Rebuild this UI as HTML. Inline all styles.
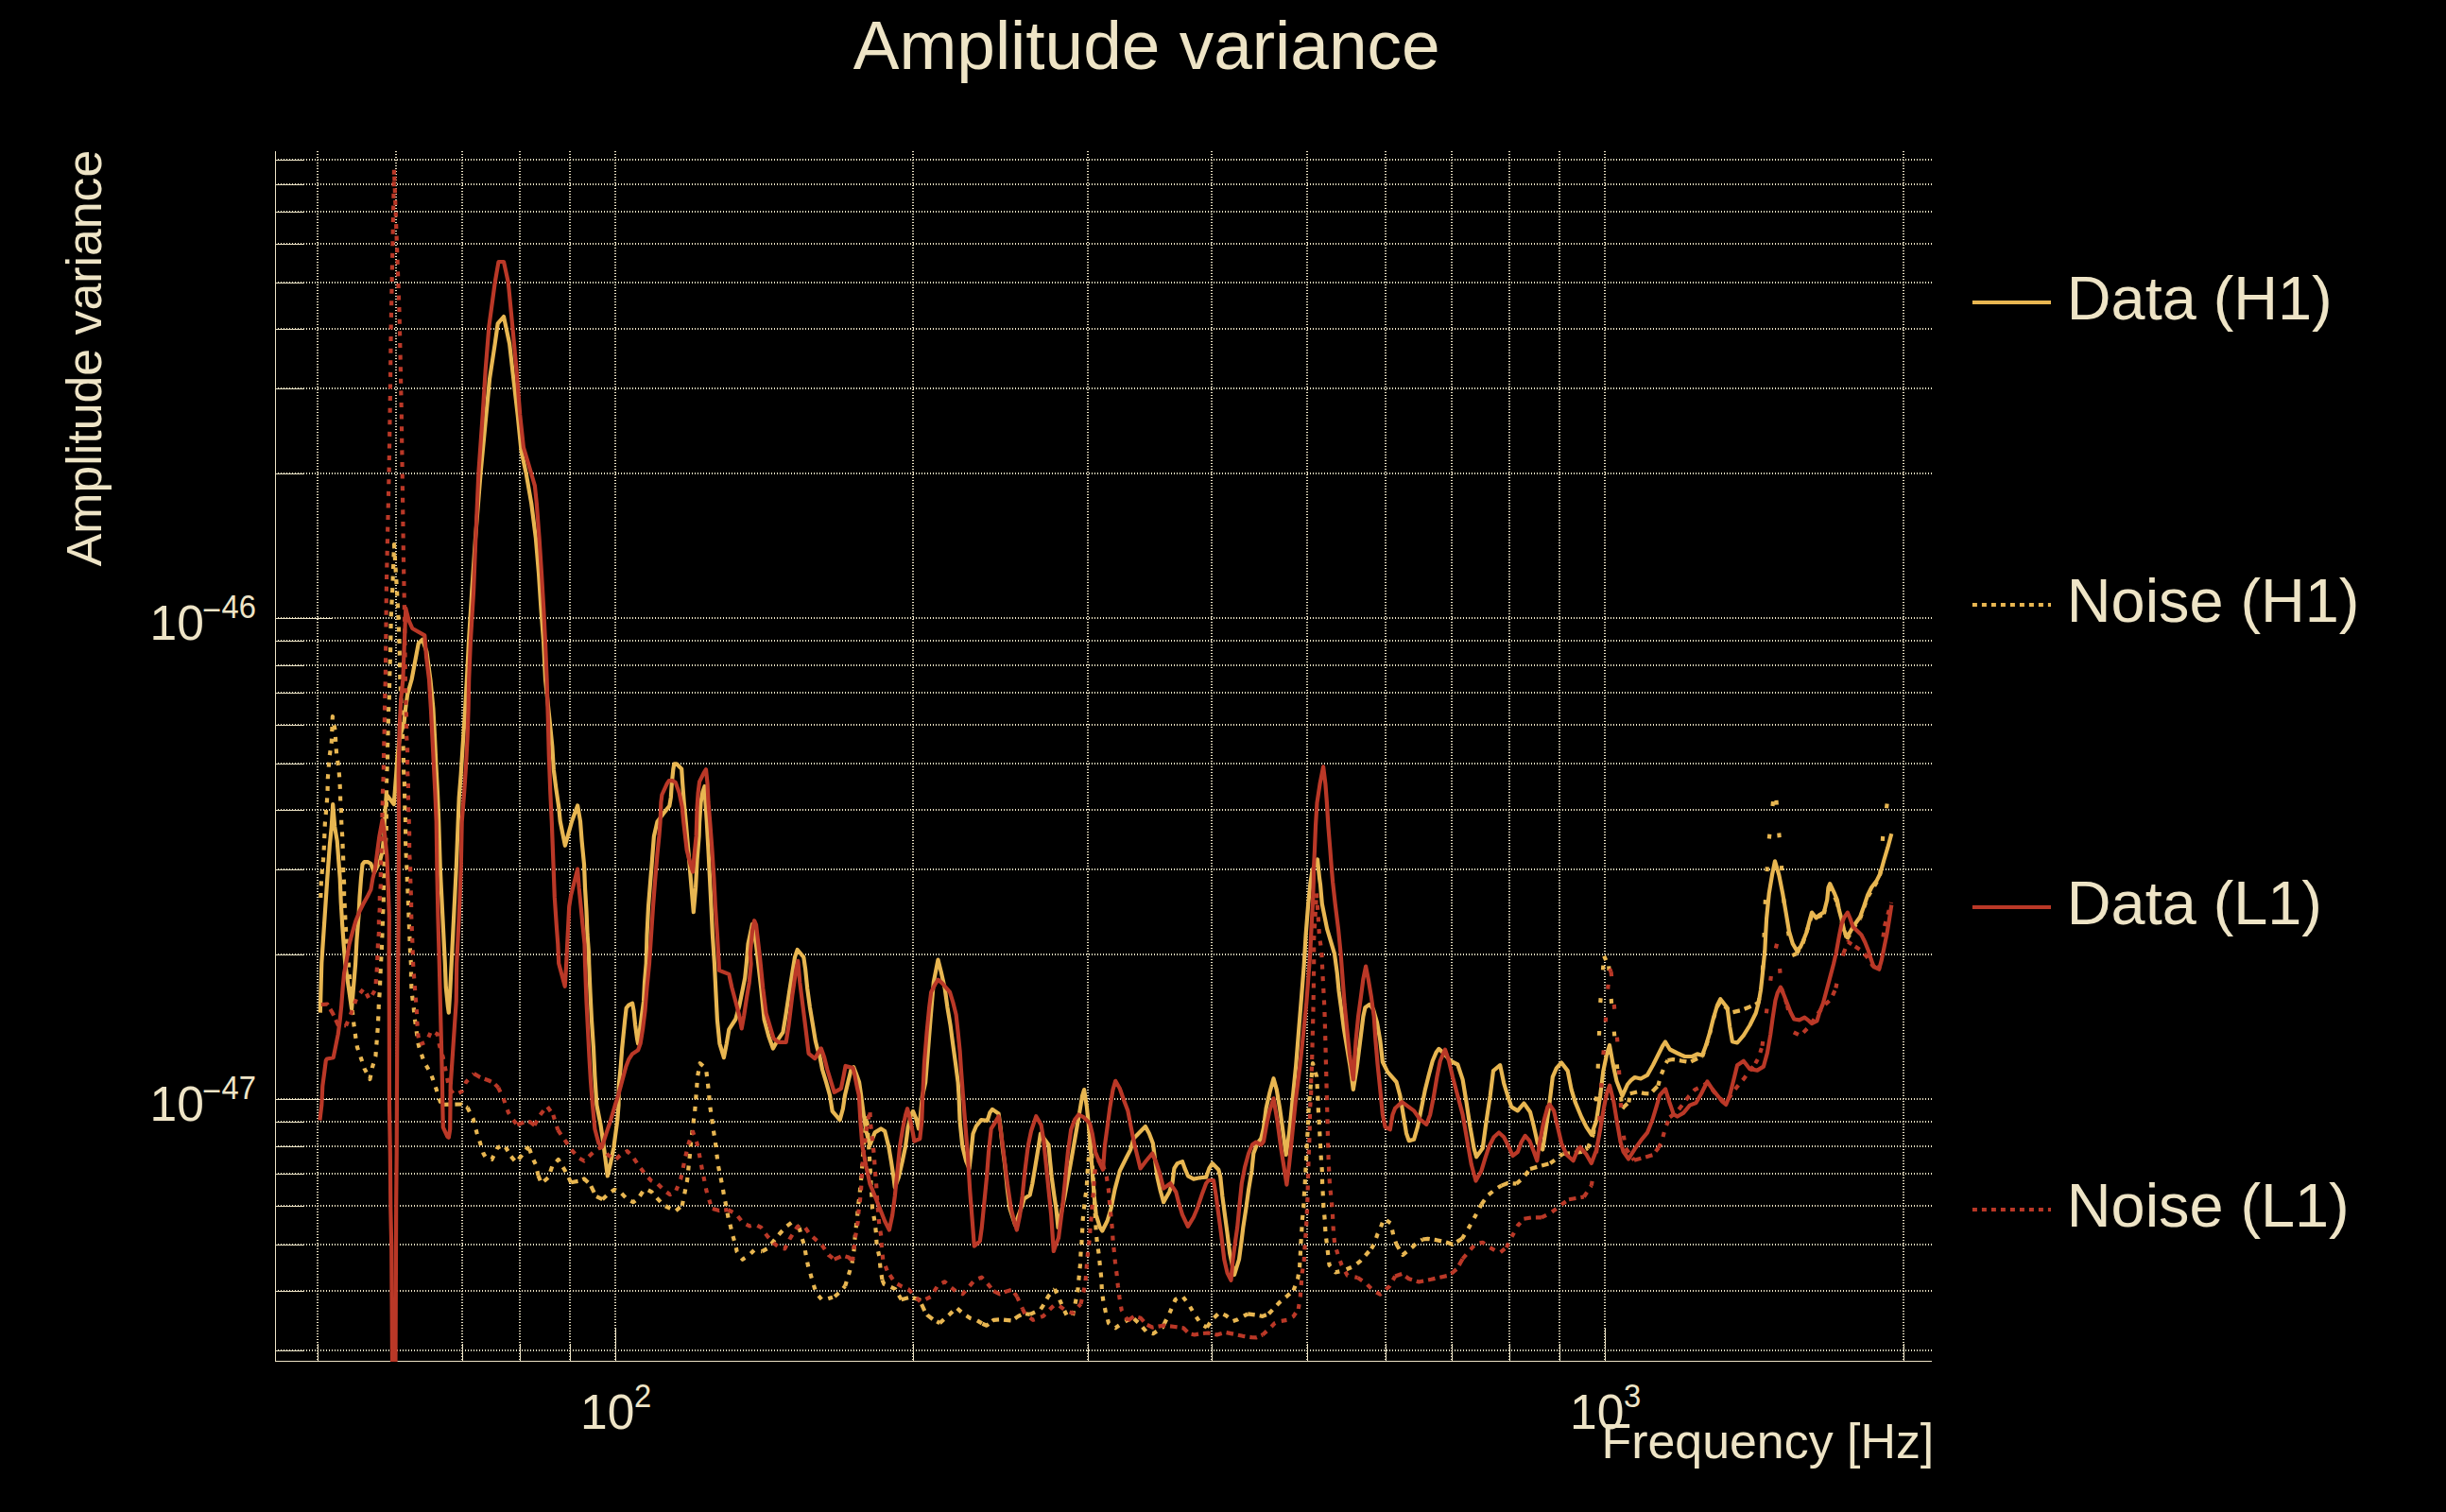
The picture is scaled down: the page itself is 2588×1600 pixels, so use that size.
<!DOCTYPE html>
<html><head><meta charset="utf-8"><title>Amplitude variance</title>
<style>html,body{margin:0;padding:0;background:#000;}svg{display:block;}text{font-family:"Liberation Sans",sans-serif;fill:#EEE4C6;}</style>
</head><body>
<svg xmlns="http://www.w3.org/2000/svg" width="2588" height="1600" viewBox="0 0 2588 1600">
<rect x="0" y="0" width="2588" height="1600" fill="#000"/>
<g stroke="#EEE4C6" stroke-width="2" stroke-dasharray="1 2" fill="none" shape-rendering="crispEdges">
<line x1="336" y1="160" x2="336" y2="1441"/>
<line x1="419" y1="160" x2="419" y2="1441"/>
<line x1="489" y1="160" x2="489" y2="1441"/>
<line x1="550" y1="160" x2="550" y2="1441"/>
<line x1="603" y1="160" x2="603" y2="1441"/>
<line x1="651" y1="160" x2="651" y2="1441"/>
<line x1="966" y1="160" x2="966" y2="1441"/>
<line x1="1151" y1="160" x2="1151" y2="1441"/>
<line x1="1282" y1="160" x2="1282" y2="1441"/>
<line x1="1383" y1="160" x2="1383" y2="1441"/>
<line x1="1466" y1="160" x2="1466" y2="1441"/>
<line x1="1536" y1="160" x2="1536" y2="1441"/>
<line x1="1597" y1="160" x2="1597" y2="1441"/>
<line x1="1650" y1="160" x2="1650" y2="1441"/>
<line x1="1698" y1="160" x2="1698" y2="1441"/>
<line x1="2014" y1="160" x2="2014" y2="1441"/>
<line x1="291" y1="1429" x2="2044" y2="1429"/>
<line x1="291" y1="1366" x2="2044" y2="1366"/>
<line x1="291" y1="1317" x2="2044" y2="1317"/>
<line x1="291" y1="1276" x2="2044" y2="1276"/>
<line x1="291" y1="1242" x2="2044" y2="1242"/>
<line x1="291" y1="1213" x2="2044" y2="1213"/>
<line x1="291" y1="1187" x2="2044" y2="1187"/>
<line x1="291" y1="1163" x2="2044" y2="1163"/>
<line x1="291" y1="1010" x2="2044" y2="1010"/>
<line x1="291" y1="920" x2="2044" y2="920"/>
<line x1="291" y1="857" x2="2044" y2="857"/>
<line x1="291" y1="808" x2="2044" y2="808"/>
<line x1="291" y1="767" x2="2044" y2="767"/>
<line x1="291" y1="733" x2="2044" y2="733"/>
<line x1="291" y1="704" x2="2044" y2="704"/>
<line x1="291" y1="678" x2="2044" y2="678"/>
<line x1="291" y1="654" x2="2044" y2="654"/>
<line x1="291" y1="501" x2="2044" y2="501"/>
<line x1="291" y1="411" x2="2044" y2="411"/>
<line x1="291" y1="348" x2="2044" y2="348"/>
<line x1="291" y1="299" x2="2044" y2="299"/>
<line x1="291" y1="258" x2="2044" y2="258"/>
<line x1="291" y1="224" x2="2044" y2="224"/>
<line x1="291" y1="195" x2="2044" y2="195"/>
<line x1="291" y1="169" x2="2044" y2="169"/>
</g>
<g stroke="#EEE4C6" stroke-width="1" fill="none" shape-rendering="crispEdges">
<line x1="291.5" y1="160" x2="291.5" y2="1441"/>
<line x1="291" y1="1440.5" x2="2044" y2="1440.5"/>
<line x1="336.5" y1="1441" x2="336.5" y2="1422"/>
<line x1="419.5" y1="1441" x2="419.5" y2="1422"/>
<line x1="489.5" y1="1441" x2="489.5" y2="1422"/>
<line x1="550.5" y1="1441" x2="550.5" y2="1422"/>
<line x1="603.5" y1="1441" x2="603.5" y2="1422"/>
<line x1="651.5" y1="1441" x2="651.5" y2="1405"/>
<line x1="966.5" y1="1441" x2="966.5" y2="1422"/>
<line x1="1151.5" y1="1441" x2="1151.5" y2="1422"/>
<line x1="1282.5" y1="1441" x2="1282.5" y2="1422"/>
<line x1="1383.5" y1="1441" x2="1383.5" y2="1422"/>
<line x1="1466.5" y1="1441" x2="1466.5" y2="1422"/>
<line x1="1536.5" y1="1441" x2="1536.5" y2="1422"/>
<line x1="1597.5" y1="1441" x2="1597.5" y2="1422"/>
<line x1="1650.5" y1="1441" x2="1650.5" y2="1422"/>
<line x1="1698.5" y1="1441" x2="1698.5" y2="1405"/>
<line x1="2014.5" y1="1441" x2="2014.5" y2="1422"/>
<line x1="291" y1="1429.5" x2="322" y2="1429.5"/>
<line x1="291" y1="1366.5" x2="322" y2="1366.5"/>
<line x1="291" y1="1317.5" x2="322" y2="1317.5"/>
<line x1="291" y1="1276.5" x2="322" y2="1276.5"/>
<line x1="291" y1="1242.5" x2="322" y2="1242.5"/>
<line x1="291" y1="1213.5" x2="322" y2="1213.5"/>
<line x1="291" y1="1187.5" x2="322" y2="1187.5"/>
<line x1="291" y1="1163.5" x2="352" y2="1163.5"/>
<line x1="291" y1="1010.5" x2="322" y2="1010.5"/>
<line x1="291" y1="920.5" x2="322" y2="920.5"/>
<line x1="291" y1="857.5" x2="322" y2="857.5"/>
<line x1="291" y1="808.5" x2="322" y2="808.5"/>
<line x1="291" y1="767.5" x2="322" y2="767.5"/>
<line x1="291" y1="733.5" x2="322" y2="733.5"/>
<line x1="291" y1="704.5" x2="322" y2="704.5"/>
<line x1="291" y1="678.5" x2="322" y2="678.5"/>
<line x1="291" y1="654.5" x2="352" y2="654.5"/>
<line x1="291" y1="501.5" x2="322" y2="501.5"/>
<line x1="291" y1="411.5" x2="322" y2="411.5"/>
<line x1="291" y1="348.5" x2="322" y2="348.5"/>
<line x1="291" y1="299.5" x2="322" y2="299.5"/>
<line x1="291" y1="258.5" x2="322" y2="258.5"/>
<line x1="291" y1="224.5" x2="322" y2="224.5"/>
<line x1="291" y1="195.5" x2="322" y2="195.5"/>
<line x1="291" y1="169.5" x2="322" y2="169.5"/>
</g>
<defs><clipPath id="cp"><rect x="291.5" y="157.8" width="1752.5" height="1283.2"/></clipPath></defs>
<g clip-path="url(#cp)" fill="none" stroke-width="4.2" stroke-linejoin="round" stroke-linecap="butt">
<path d="M338.8,1071.6 L340.3,1018.8 L342.3,989.0 L344.3,959.3 L346.3,929.5 L348.8,894.8 L350.8,875.0 L352.2,851.0 L354.2,875.0 L356.7,889.8 L358.2,909.7 L359.7,929.5 L360.7,954.3 L362.2,979.1 L363.7,1000.0 L365.3,1020.0 L372.1,1067.6 L376.1,1020.0 L377.5,994.0 L379.5,969.2 L380.5,949.4 L382.0,929.5 L383.5,914.6 L385.5,912.2 L389.4,912.2 L392.4,914.1 L394.4,919.6 L395.9,923.6 L399.4,916.6 L402.3,909.7 L404.3,901.7 L406.3,884.9 L406.8,869.0 L408.8,840.5 L416.7,851.0 L417.7,839.0 L419.2,819.2 L420.5,800.0 L423.0,780.0 L427.6,764.6 L429.1,749.8 L431.1,734.9 L435.6,719.0 L442.8,680.7 L447.0,676.7 L451.5,690.0 L455.5,720.0 L458.4,749.8 L460.0,779.5 L461.4,809.3 L463.0,839.0 L464.2,869.0 L465.8,919.6 L468.3,969.2 L470.8,1018.8 L471.8,1044.8 L473.8,1064.6 L474.8,1071.6 L476.2,1049.8 L477.7,1019.5 L480.2,969.2 L482.7,919.6 L484.7,869.0 L485.7,844.0 L487.7,819.2 L489.6,789.4 L491.6,759.7 L493.9,719.0 L495.9,680.7 L499.3,625.2 L503.0,569.6 L508.5,501.1 L514.4,439.0 L518.1,400.7 L523.7,363.7 L526.7,342.4 L533.0,335.0 L539.1,363.7 L543.3,400.7 L547.7,439.0 L551.5,477.0 L556.7,501.1 L562.2,532.6 L566.9,569.6 L570.0,606.7 L572.4,643.7 L575.2,680.7 L577.0,719.0 L581.3,759.7 L584.3,789.4 L585.8,814.2 L588.3,834.1 L591.2,853.9 L592.7,869.0 L597.9,894.8 L605.1,869.0 L611.1,852.4 L614.0,869.0 L615.6,889.8 L618.0,914.6 L619.0,939.4 L620.5,964.2 L621.5,989.0 L623.0,1008.9 L623.2,1019.5 L624.5,1049.8 L626.0,1079.5 L628.0,1109.3 L629.4,1139.0 L631.4,1169.4 L635.4,1189.8 L638.4,1209.7 L640.9,1229.5 L642.8,1244.4 L646.3,1229.5 L649.3,1214.6 L651.3,1199.8 L653.3,1184.9 L654.5,1169.4 L654.7,1149.0 L656.7,1129.1 L658.2,1109.3 L659.7,1094.4 L661.2,1079.5 L662.7,1066.6 L665.2,1063.7 L669.1,1061.7 L670.6,1069.6 L672.1,1084.5 L674.1,1099.4 L675.1,1104.3 L677.1,1089.4 L679.0,1074.6 L681.0,1059.7 L682.0,1039.8 L683.7,1019.5 L684.5,989.0 L686.0,959.3 L688.0,934.5 L690.0,909.7 L691.9,884.9 L695.5,869.5 L701.9,860.9 L708.3,852.9 L709.8,844.0 L710.8,829.1 L712.3,814.2 L713.3,808.3 L715.8,808.3 L721.2,813.8 L722.2,829.1 L723.7,849.0 L725.7,869.5 L728.7,904.7 L731.6,939.4 L733.8,965.2 L736.1,939.4 L737.6,909.7 L739.6,884.9 L740.1,870.0 L741.5,849.0 L743.5,838.0 L745.5,832.1 L746.5,849.0 L747.8,869.5 L749.5,899.8 L751.0,929.5 L752.5,959.3 L753.9,989.0 L755.9,1019.5 L757.4,1049.8 L758.9,1079.5 L761.4,1104.3 L765.9,1119.2 L768.8,1104.3 L771.3,1089.4 L778.3,1078.5 L782.2,1064.6 L785.2,1049.8 L788.2,1034.9 L789.8,1019.5 L791.5,999.0 L796.0,978.0 L800.0,999.7 L805.3,1046.0 L808.6,1079.0 L813.2,1096.2 L817.9,1109.5 L823.1,1100.2 L828.4,1092.3 L831.7,1072.4 L835.1,1049.9 L838.4,1028.8 L841.0,1012.9 L843.7,1005.0 L850.3,1012.9 L852.2,1026.1 L854.2,1046.0 L856.9,1065.8 L860.2,1085.7 L862.8,1101.5 L864.8,1109.5 L867.5,1118.7 L870.1,1132.0 L874.1,1145.2 L878.0,1159.0 L880.7,1175.9 L888.6,1185.1 L891.9,1173.2 L894.0,1159.0 L897.9,1142.5 L900.5,1132.0 L903.2,1129.3 L905.8,1135.9 L909.1,1145.2 L911.1,1159.0 L913.8,1179.8 L916.4,1197.0 L920.4,1211.6 L925.7,1198.4 L932.3,1194.4 L936.2,1197.0 L940.2,1212.9 L942.9,1228.8 L945.5,1246.0 L946.8,1256.6 L950.8,1246.0 L954.8,1228.8 L958.1,1212.9 L960.7,1193.1 L964.0,1179.8 L966.0,1175.9 L969.3,1183.8 L972.0,1194.4 L973.3,1186.5 L975.9,1160.0 L979.2,1145.2 L981.9,1112.1 L984.5,1079.0 L987.8,1039.4 L992.5,1015.6 L995.8,1028.8 L999.7,1046.0 L1002.4,1065.8 L1005.7,1085.7 L1008.3,1105.5 L1011.0,1125.3 L1013.6,1145.2 L1014.5,1159.0 L1015.6,1186.5 L1018.3,1212.9 L1022.2,1228.8 L1025.5,1236.7 L1027.5,1219.5 L1029.5,1199.7 L1032.8,1191.7 L1038.1,1185.1 L1044.7,1185.8 L1047.4,1177.2 L1050.0,1173.9 L1056.6,1178.5 L1058.6,1193.1 L1060.6,1212.9 L1063.2,1232.8 L1065.9,1259.2 L1068.5,1279.0 L1074.0,1296.0 L1081.7,1275.1 L1083.7,1268.5 L1089.7,1264.5 L1092.3,1252.6 L1095.6,1232.8 L1098.9,1212.9 L1100.9,1199.7 L1109.5,1211.6 L1110.8,1226.1 L1112.8,1246.0 L1115.5,1265.8 L1117.5,1279.0 L1119.5,1299.0 L1126.6,1265.5 L1132.6,1232.4 L1137.2,1206.0 L1141.8,1179.5 L1145.1,1159.7 L1147.1,1153.1 L1149.8,1170.3 L1151.7,1188.8 L1153.7,1212.6 L1155.7,1239.0 L1157.7,1265.5 L1159.7,1285.3 L1163.7,1298.6 L1166.3,1302.5 L1171.6,1292.0 L1175.6,1278.7 L1179.5,1258.9 L1184.8,1239.0 L1191.4,1225.8 L1196.1,1216.6 L1199.4,1204.7 L1206.0,1198.0 L1211.9,1192.1 L1215.9,1199.4 L1219.9,1209.9 L1221.9,1225.8 L1224.5,1245.7 L1227.8,1260.2 L1231.1,1272.1 L1237.1,1261.5 L1240.4,1252.3 L1242.4,1236.4 L1245.7,1231.1 L1251.0,1229.1 L1253.6,1236.4 L1256.9,1244.3 L1262.9,1247.6 L1269.5,1246.3 L1276.1,1245.7 L1279.4,1236.4 L1282.7,1231.1 L1289.3,1237.7 L1291.3,1245.7 L1293.3,1265.5 L1295.9,1285.3 L1298.3,1303.0 L1301.2,1326.2 L1306.0,1349.0 L1311.0,1332.7 L1313.6,1313.1 L1315.3,1299.0 L1318.4,1278.7 L1321.1,1258.9 L1324.4,1239.0 L1326.3,1220.5 L1330.3,1209.9 L1334.3,1204.7 L1336.9,1194.1 L1339.6,1172.9 L1343.5,1155.7 L1347.5,1141.2 L1350.8,1153.1 L1354.1,1172.9 L1357.4,1196.7 L1360.7,1221.9 L1364.0,1199.4 L1366.7,1172.9 L1369.3,1146.5 L1371.2,1127.5 L1374.3,1088.7 L1377.0,1055.7 L1379.6,1022.6 L1381.6,989.5 L1384.2,956.5 L1386.5,934.0 L1388.5,921.0 L1394.0,909.5 L1396.0,928.9 L1397.0,936.0 L1398.8,956.5 L1404.1,982.9 L1412.0,1009.4 L1414.7,1029.2 L1416.6,1049.0 L1419.3,1068.9 L1421.9,1088.7 L1425.2,1108.6 L1428.5,1128.4 L1431.8,1152.9 L1435.8,1128.4 L1439.1,1102.0 L1442.4,1075.5 L1444.4,1066.2 L1449.0,1062.9 L1453.0,1068.0 L1457.0,1082.1 L1460.3,1101.0 L1462.9,1123.8 L1468.2,1134.4 L1477.5,1145.0 L1481.4,1159.5 L1484.7,1179.4 L1488.0,1199.2 L1490.7,1207.1 L1496.0,1205.8 L1499.9,1192.6 L1503.9,1172.8 L1507.9,1152.9 L1511.9,1137.0 L1515.8,1122.5 L1519.8,1113.2 L1522.4,1109.9 L1527.7,1114.6 L1534.3,1122.5 L1542.3,1126.5 L1547.6,1142.3 L1551.5,1166.1 L1555.5,1192.6 L1559.5,1215.1 L1562.1,1224.3 L1568.7,1215.1 L1572.7,1186.0 L1576.7,1159.5 L1580.0,1133.1 L1587.2,1127.1 L1591.2,1146.3 L1595.2,1159.5 L1599.2,1171.4 L1605.8,1175.4 L1612.4,1167.5 L1619.0,1176.7 L1623.0,1192.6 L1626.9,1209.8 L1632.2,1216.4 L1634.9,1199.2 L1638.8,1172.8 L1642.8,1139.7 L1646.8,1130.4 L1652.1,1124.5 L1658.7,1133.1 L1662.6,1152.9 L1666.6,1166.1 L1673.2,1182.0 L1678.5,1192.6 L1683.8,1200.5 L1689.1,1186.0 L1693.1,1159.5 L1696.4,1133.1 L1699.7,1117.2 L1703.0,1106.0 L1706.5,1125.5 L1710.5,1144.0 L1716.5,1159.7 L1722.0,1147.5 L1725.7,1143.2 L1729.7,1140.0 L1736.0,1141.5 L1743.0,1137.6 L1749.0,1127.0 L1755.0,1115.0 L1759.0,1107.0 L1762.0,1102.5 L1766.8,1110.5 L1774.8,1114.5 L1782.6,1118.0 L1790.5,1118.0 L1795.8,1115.4 L1801.1,1116.7 L1805.1,1106.1 L1809.0,1092.9 L1813.0,1077.0 L1817.0,1063.8 L1820.3,1057.2 L1827.6,1066.5 L1830.2,1086.3 L1832.9,1102.2 L1838.1,1103.5 L1844.8,1095.6 L1851.4,1085.0 L1857.8,1072.0 L1860.8,1060.5 L1863.0,1047.5 L1864.5,1034.1 L1865.9,1020.2 L1867.3,1006.3 L1868.0,992.2 L1869.1,972.0 L1871.7,945.7 L1875.0,925.8 L1878.0,911.3 L1882.3,925.8 L1886.2,945.7 L1889.6,965.5 L1892.9,985.3 L1896.8,998.6 L1901.2,1006.0 L1905.0,1002.0 L1907.5,996.5 L1911.5,986.5 L1914.4,975.0 L1917.0,965.6 L1921.7,971.4 L1924.6,968.5 L1929.9,965.2 L1933.2,952.3 L1934.5,939.0 L1936.2,935.1 L1940.5,944.3 L1943.8,952.3 L1945.8,962.9 L1948.4,972.5 L1951.1,984.2 L1954.2,991.5 L1957.4,986.5 L1960.5,981.0 L1964.0,976.0 L1968.1,970.2 L1972.2,958.9 L1976.2,947.0 L1980.2,939.0 L1985.4,932.4 L1989.4,924.5 L1993.4,910.0 L1997.4,896.7 L2001.3,882.2" stroke="#E8B651"/>
<path d="M339.3,950.0 L339.8,934.5 L340.8,921.6 L342.0,909.7 L342.8,896.8 L343.3,884.9 L343.8,872.0 L344.8,860.9 L346.0,847.0 L346.6,836.0 L346.8,824.2 L347.8,811.3 L348.8,799.4 L350.8,785.5 L351.9,758.2 L354.7,773.6 L355.2,785.5 L356.2,799.4 L358.2,811.3 L359.2,823.2 L359.9,835.6 L360.2,848.0 L361.2,860.9 L361.2,870.0 L362.2,884.9 L362.7,897.8 L363.2,909.7 L363.2,922.6 L364.1,934.5 L364.1,947.4 L364.8,959.3 L365.6,978.1 L366.4,990.0 L367.1,1002.0 L368.1,1008.9 L369.6,1029.9 L370.6,1044.8 L373.6,1077.5 L375.1,1089.4 L377.0,1102.3 L378.0,1108.3 L382.5,1121.2 L385.5,1130.6 L391.4,1142.0 L393.9,1129.6 L397.4,1117.7 L397.9,1111.3 L398.9,1098.4 L399.9,1085.5 L400.4,1073.6 L400.9,1060.7 L401.8,1048.8 L402.3,1035.9 L402.8,1024.0 L403.8,1005.9 L404.3,993.0 L404.8,980.1 L405.1,967.7 L405.8,955.3 L405.8,942.4 L406.3,929.5 L406.3,917.6 L408.8,879.9 L409.0,830.1 L409.3,817.7 L410.1,805.3 L410.1,789.4 L410.5,776.5 L410.8,764.6 L411.1,751.7 L411.8,739.8 L412.1,722.0 L413.3,680.7 L413.7,653.0 L415.2,625.2 L417.0,576.1 L420.0,625.2 L421.5,653.0 L422.6,680.7 L423.3,717.8 L426.6,789.4 L426.9,803.3 L427.1,815.2 L427.9,828.1 L428.1,840.0 L428.3,852.9 L428.9,864.8 L429.1,877.4 L429.1,890.8 L429.6,902.7 L429.9,909.7 L430.6,921.6 L430.9,933.5 L431.6,946.4 L432.1,959.3 L432.6,972.2 L433.1,984.1 L433.6,997.0 L434.1,1008.9 L435.1,1023.0 L434.9,1034.9 L435.6,1049.8 L437.6,1064.6 L438.6,1076.5 L440.5,1089.4 L442.0,1102.3 L443.5,1108.3 L448.5,1123.2 L455.9,1136.1 L461.4,1151.9 L465.8,1165.8 L468.8,1168.8" stroke="#E8B651" stroke-dasharray="5 7.6"/>
<path d="M468.8,1168.8 L488.7,1168.5 L494.6,1172.0" stroke="#E8B651" stroke-dasharray="7.6 5.0"/>
<path d="M494.6,1172.0 L500.6,1183.9 L504.5,1198.8 L507.5,1207.7 L511.5,1220.6 L514.4,1225.6 L520.4,1227.0 L526.3,1214.6 L533.3,1211.2 L540.7,1223.6" stroke="#E8B651" stroke-dasharray="5 7.6"/>
<path d="M540.7,1223.6 L546.0,1230.0 L552.1,1222.6 L558.1,1214.6 L560.0,1215.6" stroke="#E8B651" stroke-dasharray="5.8 6.8"/>
<path d="M560.0,1215.6 L564.5,1227.5 L566.9,1232.5 L569.4,1243.9" stroke="#E8B651" stroke-dasharray="5 7.6"/>
<path d="M569.4,1243.9 L572.9,1252.3 L580.3,1245.9 L584.3,1234.0 L590.8,1227.0 L597.7,1238.5 L602.7,1248.4 L604.1,1251.3" stroke="#E8B651" stroke-dasharray="5.8 6.8"/>
<path d="M604.1,1251.3 L611.6,1249.9 L618.0,1247.4 L624.5,1253.3 L630.4,1265.7 L637.4,1269.2" stroke="#E8B651" stroke-dasharray="7.6 5.0"/>
<path d="M637.4,1269.2 L643.8,1263.3 L650.3,1258.8 L657.2,1262.3 L663.7,1269.2 L670.1,1272.2 L675.5,1268.0 L680.5,1260.3 L684.0,1258.3 L689.5,1261.3 L695.9,1268.7 L701.9,1275.2 L708.8,1278.6 L714.8,1281.6 L721.7,1275.7" stroke="#E8B651" stroke-dasharray="5.8 6.8"/>
<path d="M721.7,1275.7 L724.2,1263.8 L727.2,1248.4 L728.7,1233.5 L730.1,1220.6 L731.1,1208.7 L732.6,1195.8 L734.1,1183.9 L735.1,1176.9 L736.1,1164.8 L737.1,1151.9 L738.1,1139.0 L740.6,1125.2 L747.0,1130.6 L748.5,1143.0 L750.0,1155.9 L751.0,1169.0 L753.0,1182.4 L754.9,1196.3 L756.9,1208.7 L758.4,1221.6 L759.9,1233.5 L762.4,1245.4 L764.9,1258.3 L765.9,1264.2 L768.3,1276.2 L770.8,1290.0 L772.3,1295.0 L775.3,1307.4 L778.3,1317.8 L779.7,1324.7 L785.7,1332.7 L792.6,1328.2 L798.1,1322.7 L800.0,1323.5 L806.5,1324.2" stroke="#E8B651" stroke-dasharray="5 7.6"/>
<path d="M806.5,1324.2 L812.4,1320.9 L824.7,1305.7 L831.7,1298.2 L837.7,1293.6 L845.6,1298.9" stroke="#E8B651" stroke-dasharray="5.8 6.8"/>
<path d="M845.6,1298.9 L848.3,1309.5 L850.9,1317.4 L852.9,1329.3 L855.6,1342.5 L856.9,1345.8 L860.2,1357.6 L863.4,1368.0 L870.0,1375.9 L875.2,1374.6 L883.1,1372.0" stroke="#E8B651" stroke-dasharray="5 7.6"/>
<path d="M883.1,1372.0 L889.0,1367.0 L894.2,1360.8" stroke="#E8B651" stroke-dasharray="5.8 6.8"/>
<path d="M894.2,1360.8 L898.1,1348.4 L901.4,1337.3 L903.3,1326.2 L904.0,1315.7 L905.3,1302.6 L907.1,1287.0 L907.8,1276.4 L909.1,1268.5 L910.4,1255.2 L911.8,1240.7 L912.4,1231.4 L914.0,1210.0 L917.0,1180.0 L920.0,1225.0 L923.0,1279.0 L925.7,1293.6 L927.0,1305.5 L927.6,1317.4 L930.3,1329.3 L931.6,1342.5 L933.5,1354.5" stroke="#E8B651" stroke-dasharray="5 7.6"/>
<path d="M933.5,1354.5 L935.4,1358.9 L941.9,1361.5 L947.2,1364.1 L953.7,1375.2" stroke="#E8B651" stroke-dasharray="5.8 6.8"/>
<path d="M953.7,1375.2 L963.5,1372.6 L972.7,1375.2 L978.6,1387.7 L981.2,1391.6 L987.1,1396.2 L994.3,1400.1" stroke="#E8B651" stroke-dasharray="7.6 5.0"/>
<path d="M994.3,1400.1 L1005.4,1390.3 L1011.9,1383.7 L1018.5,1389.6 L1026.3,1394.8 L1032.9,1396.8 L1039.4,1400.7" stroke="#E8B651" stroke-dasharray="5.8 6.8"/>
<path d="M1039.4,1400.7 L1044.0,1402.7 L1051.2,1396.8 L1059.0,1396.2 L1064.3,1396.8 L1070.8,1397.5 L1077.3,1392.9 L1083.0,1390.0 L1089.8,1390.9" stroke="#E8B651" stroke-dasharray="7.6 5.0"/>
<path d="M1089.8,1390.9 L1100.9,1385.7 L1103.5,1381.8 L1109.4,1371.3 L1116.0,1364.0" stroke="#E8B651" stroke-dasharray="5.8 6.8"/>
<path d="M1116.0,1364.0 L1121.0,1375.0 L1125.9,1386.3 L1129.2,1392.9 L1135.0,1392.2 L1137.7,1379.1 L1140.3,1366.1 L1141.6,1351.7 L1142.9,1338.6 L1143.5,1326.2 L1144.5,1314.0 L1145.1,1302.5 L1145.8,1289.3 L1147.1,1277.4 L1147.8,1269.5 L1149.8,1257.6 L1150.4,1243.0 L1154.0,1200.0 L1159.7,1302.5 L1160.6,1313.1 L1162.5,1326.2 L1163.8,1338.6 L1165.1,1351.0 L1165.8,1364.1 L1167.1,1375.2 L1169.7,1387.7 L1173.0,1400.1 L1180.2,1405.3 L1186.7,1400.7 L1193.0,1397.0 L1199.8,1395.5" stroke="#E8B651" stroke-dasharray="5 7.6"/>
<path d="M1199.8,1395.5 L1206.3,1401.4 L1212.9,1409.2 L1220.1,1411.2 L1229.9,1404.7 L1231.9,1400.7" stroke="#E8B651" stroke-dasharray="5.8 6.8"/>
<path d="M1231.9,1400.7 L1237.7,1389.0 L1243.6,1375.2 L1250.8,1371.3 L1257.4,1379.8 L1263.9,1390.9 L1271.1,1401.4 L1277.0,1404.6" stroke="#E8B651" stroke-dasharray="5 7.6"/>
<path d="M1277.0,1404.6 L1282.2,1396.8 L1290.1,1389.0 L1297.3,1392.2 L1304.5,1398.1 L1309.7,1396.2 L1320.2,1390.3" stroke="#E8B651" stroke-dasharray="5.8 6.8"/>
<path d="M1320.2,1390.3 L1329.3,1391.6 L1335.9,1392.9 L1342.4,1390.3" stroke="#E8B651" stroke-dasharray="7.6 5.0"/>
<path d="M1342.4,1390.3 L1354.2,1377.8 L1362.0,1371.3 L1368.6,1365.4" stroke="#E8B651" stroke-dasharray="5.8 6.8"/>
<path d="M1368.6,1365.4 L1373.1,1353.6 L1375.1,1340.6 L1375.8,1328.1 L1376.4,1315.7 L1377.2,1303.9 L1377.9,1290.6 L1379.3,1277.4 L1379.9,1264.2 L1380.6,1254.9 L1381.2,1243.0 L1381.9,1229.8 L1382.6,1217.9 L1383.0,1206.0 L1383.9,1192.8 L1384.3,1179.5 L1385.2,1166.3 L1389.0,1125.0 L1393.1,1139.2 L1393.8,1151.7 L1394.5,1163.7 L1394.9,1175.6 L1395.8,1188.8 L1396.4,1200.7 L1397.1,1213.9 L1397.8,1225.8 L1398.8,1239.0 L1399.1,1252.3 L1399.8,1264.8 L1400.4,1277.4 L1401.7,1290.6 L1402.4,1303.9 L1403.8,1315.8 L1405.2,1327.5 L1406.5,1338.6 L1413.0,1346.4 L1418.0,1345.2 L1424.6,1343.3" stroke="#E8B651" stroke-dasharray="5 7.6"/>
<path d="M1424.6,1343.3 L1432.5,1339.9 L1439.1,1334.7 L1451.0,1321.4" stroke="#E8B651" stroke-dasharray="5.8 6.8"/>
<path d="M1451.0,1321.4 L1453.7,1316.8 L1457.6,1305.6 L1460.3,1300.3 L1464.2,1289.7 L1471.5,1294.3 L1474.2,1306.9 L1477.5,1316.8" stroke="#E8B651" stroke-dasharray="5 7.6"/>
<path d="M1477.5,1316.8 L1484.1,1328.0 L1494.7,1319.4 L1498.0,1316.1 L1505.2,1311.5" stroke="#E8B651" stroke-dasharray="5.8 6.8"/>
<path d="M1505.2,1311.5 L1510.5,1310.8 L1519.8,1312.2 L1529.0,1314.2 L1537.0,1316.8 L1546.9,1310.8" stroke="#E8B651" stroke-dasharray="7.6 5.0"/>
<path d="M1546.9,1310.8 L1554.2,1298.9 L1560.8,1287.0 L1567.4,1274.5" stroke="#E8B651" stroke-dasharray="5 7.6"/>
<path d="M1567.4,1274.5 L1574.0,1265.2 L1582.0,1258.6 L1588.6,1254.6" stroke="#E8B651" stroke-dasharray="5.8 6.8"/>
<path d="M1588.6,1254.6 L1595.2,1252.0 L1604.4,1252.6" stroke="#E8B651" stroke-dasharray="7.6 5.0"/>
<path d="M1604.4,1252.6 L1611.0,1247.0 L1619.0,1236.9" stroke="#E8B651" stroke-dasharray="5.8 6.8"/>
<path d="M1619.0,1236.9 L1630.9,1233.6 L1640.2,1231.0" stroke="#E8B651" stroke-dasharray="7.6 5.0"/>
<path d="M1640.2,1231.0 L1646.8,1226.3 L1653.4,1221.0" stroke="#E8B651" stroke-dasharray="5.8 6.8"/>
<path d="M1653.4,1221.0 L1661.3,1220.4 L1673.2,1219.0 L1680.0,1215.0" stroke="#E8B651" stroke-dasharray="7.6 5.0"/>
<path d="M1680.0,1215.0 L1686.0,1200.0" stroke="#E8B651" stroke-dasharray="5 7.6"/>
<path d="M1686.0,1200.0 L1690.0,1150.0 L1693.2,1061.7 L1697.1,1011.7" stroke="#E8B651" stroke-dasharray="4.8 30"/>
<path d="M1697.1,1011.7 L1702.2,1022.3" stroke="#E8B651" stroke-dasharray="5 7.6"/>
<path d="M1702.2,1022.3 L1706.1,1075.9 L1707.5,1087.8 L1712.0,1140.0 L1716.7,1173.1" stroke="#E8B651" stroke-dasharray="4.8 30"/>
<path d="M1716.7,1173.1 L1718.4,1171.0 L1723.3,1166.5" stroke="#E8B651" stroke-dasharray="7.6 5.0"/>
<path d="M1723.3,1166.5 L1724.7,1157.2" stroke="#E8B651" stroke-dasharray="4.8 30"/>
<path d="M1724.7,1157.2 L1732.6,1155.3 L1740.5,1157.2 L1746.0,1157.5 L1754.4,1148.7" stroke="#E8B651" stroke-dasharray="7.6 5.0"/>
<path d="M1754.4,1148.7 L1757.1,1138.7 L1762.4,1125.5 L1764.5,1122.0" stroke="#E8B651" stroke-dasharray="5 7.6"/>
<path d="M1764.5,1122.0 L1770.0,1121.0 L1779.9,1122.7 L1787.9,1124.0 L1796.0,1120.0 L1801.1,1118.0" stroke="#E8B651" stroke-dasharray="7.6 5.0"/>
<path d="M1801.1,1118.0 L1805.1,1107.0 L1809.0,1094.0" stroke="#E8B651" stroke-dasharray="5 7.6"/>
<path d="M1809.0,1094.0 L1813.0,1078.0" stroke="#E8B651" stroke-dasharray="4.8 30"/>
<path d="M1813.0,1078.0 L1817.0,1065.0" stroke="#E8B651" stroke-dasharray="5 7.6"/>
<path d="M1817.0,1065.0 L1820.3,1060.0 L1827.0,1067.0 L1833.5,1071.1" stroke="#E8B651" stroke-dasharray="5.8 6.8"/>
<path d="M1833.5,1071.1 L1842.1,1069.1 L1848.7,1066.5 L1855.3,1063.8 L1860.5,1061.0" stroke="#E8B651" stroke-dasharray="7.6 5.0"/>
<path d="M1860.5,1061.0 L1863.0,1047.5 L1864.5,1034.1 L1866.0,1010.0 L1867.5,960.0 L1871.0,895.4 L1876.3,845.1 L1878.3,832.6 L1882.3,882.2 L1883.6,895.4 L1887.0,950.0 L1891.0,980.0 L1896.2,1011.1" stroke="#E8B651" stroke-dasharray="4.8 30"/>
<path d="M1896.2,1011.1 L1901.2,1009.0" stroke="#E8B651" stroke-dasharray="7.6 5.0"/>
<path d="M1901.2,1009.0 L1907.5,998.0 L1914.4,977.0 L1917.0,968.0 L1924.6,970.0 L1929.9,967.0" stroke="#E8B651" stroke-dasharray="5 7.6"/>
<path d="M1929.9,967.0 L1934.5,942.0" stroke="#E8B651" stroke-dasharray="4.8 30"/>
<path d="M1934.5,942.0 L1936.2,938.0" stroke="#E8B651" stroke-dasharray="5.8 6.8"/>
<path d="M1936.2,938.0 L1943.8,955.0" stroke="#E8B651" stroke-dasharray="5 7.6"/>
<path d="M1943.8,955.0 L1948.4,975.0" stroke="#E8B651" stroke-dasharray="4.8 30"/>
<path d="M1948.4,975.0 L1954.2,994.0" stroke="#E8B651" stroke-dasharray="5 7.6"/>
<path d="M1954.2,994.0 L1960.5,983.0 L1968.1,972.0" stroke="#E8B651" stroke-dasharray="5.8 6.8"/>
<path d="M1968.1,972.0 L1976.2,949.0 L1985.4,934.0 L1989.4,924.5" stroke="#E8B651" stroke-dasharray="5 7.6"/>
<path d="M1989.4,924.5 L1992.1,886.1 L1994.0,870.3 L1997.4,844.5 L2001.0,822.0" stroke="#E8B651" stroke-dasharray="4.8 30"/>
<path d="M338.4,1185.4 L340.3,1169.5 L341.3,1149.0 L343.3,1134.1 L344.8,1122.2 L346.0,1120.5 L352.7,1119.2 L354.7,1109.3 L357.7,1094.4 L359.7,1079.5 L361.2,1064.6 L362.7,1044.8 L364.1,1029.9 L366.1,1019.5 L369.6,999.0 L373.6,984.1 L376.5,974.2 L380.5,964.2 L384.5,956.3 L389.4,947.4 L392.4,941.4 L394.4,929.5 L396.9,919.6 L399.4,899.8 L401.4,884.9 L404.6,867.5 L407.3,884.9 L409.3,904.7 L410.8,939.4 L411.8,969.2 L411.6,1019.5 L411.8,1069.6 L412.0,1169.5 L412.8,1219.6 L413.3,1279.1 L414.2,1318.8 L415.0,1440.0 L416.5,1560.0 L418.5,1440.0 L419.0,1318.8 L419.2,1269.2 L419.7,1219.6 L419.9,1169.5 L420.2,1106.3 L421.2,1019.5 L421.7,969.2 L422.0,869.5 L421.7,819.2 L422.7,769.6 L424.2,739.8 L426.4,719.0 L429.3,643.7 L432.6,656.7 L436.3,665.0 L449.3,672.4 L451.1,695.6 L454.0,719.0 L455.9,749.8 L457.4,779.5 L458.9,809.3 L460.4,839.0 L461.7,869.5 L462.4,919.6 L463.4,969.2 L464.8,1019.5 L465.8,1059.7 L466.8,1099.4 L467.8,1139.0 L468.3,1169.5 L468.8,1192.8 L473.3,1202.7 L474.8,1203.7 L476.2,1194.8 L476.5,1169.5 L476.7,1149.0 L478.7,1119.2 L480.7,1089.4 L482.7,1059.7 L483.2,1019.5 L485.7,969.2 L487.7,919.6 L488.7,869.5 L491.1,839.0 L493.1,809.3 L494.6,779.5 L495.6,749.8 L496.2,719.0 L497.8,680.7 L501.1,625.2 L503.3,569.6 L506.3,501.1 L510.7,439.0 L513.7,391.5 L517.4,345.2 L523.7,298.9 L527.5,277.0 L533.0,277.0 L537.8,298.9 L542.2,345.2 L546.5,391.5 L550.2,439.0 L553.9,473.3 L559.4,491.9 L565.9,514.1 L567.8,532.6 L570.6,569.6 L573.0,606.7 L575.2,643.7 L577.0,680.7 L578.6,719.0 L579.8,759.7 L580.8,799.4 L582.3,839.0 L583.8,869.5 L585.3,909.7 L586.8,949.4 L588.8,979.1 L590.3,999.0 L591.2,1019.5 L597.7,1043.8 L599.2,1019.5 L600.7,989.0 L602.2,959.3 L604.1,947.4 L608.6,929.5 L611.1,919.6 L612.6,939.4 L614.6,959.3 L616.5,979.1 L618.5,999.0 L619.0,1019.5 L620.5,1059.7 L622.0,1089.4 L623.5,1119.2 L625.0,1144.0 L627.0,1169.5 L629.4,1194.8 L633.4,1209.7 L636.9,1213.7 L641.3,1199.8 L646.3,1184.9 L650.8,1169.5 L654.2,1158.9 L658.2,1144.0 L662.2,1129.1 L665.2,1121.2 L669.1,1115.2 L675.1,1111.3 L677.6,1104.3 L680.0,1089.4 L682.5,1069.6 L684.5,1044.8 L686.0,1029.9 L687.0,1019.5 L689.0,989.0 L691.0,959.3 L692.9,934.5 L695.4,904.7 L697.4,884.9 L698.6,869.5 L699.4,849.0 L700.4,841.0 L705.8,829.1 L707.8,826.2 L711.8,826.2 L714.8,828.1 L718.7,839.0 L721.7,853.9 L723.2,869.5 L726.7,899.8 L730.6,914.6 L733.1,922.6 L734.6,904.7 L736.6,884.9 L737.1,869.5 L737.6,853.9 L738.6,839.0 L740.1,827.1 L744.5,818.2 L747.0,814.2 L748.5,829.1 L749.5,849.0 L751.2,869.5 L753.5,899.8 L755.4,929.5 L756.9,959.3 L758.9,989.0 L760.6,1019.5 L760.9,1026.9 L771.3,1030.9 L774.3,1044.8 L778.3,1059.7 L782.2,1074.6 L784.7,1088.5 L787.2,1074.6 L790.2,1054.7 L792.7,1039.8 L794.6,1020.0 L793.8,1008.9 L796.1,984.1 L798.1,974.2 L800.0,978.5 L804.0,1012.9 L807.3,1046.0 L810.6,1072.4 L818.5,1098.9 L823.8,1102.9 L831.7,1102.9 L834.4,1085.7 L838.4,1052.6 L842.3,1026.1 L844.3,1016.9 L846.3,1039.4 L849.6,1065.8 L852.9,1092.3 L855.6,1114.8 L862.2,1120.1 L866.1,1113.4 L868.8,1109.5 L872.1,1118.7 L875.4,1132.0 L879.4,1145.2 L882.7,1155.8 L889.9,1151.8 L892.6,1138.6 L894.6,1128.0 L902.5,1130.0 L904.5,1138.6 L907.1,1151.8 L908.8,1159.0 L910.4,1186.5 L912.4,1212.9 L916.4,1234.1 L920.4,1252.6 L925.7,1265.8 L931.0,1279.0 L936.2,1292.3 L940.9,1301.5 L944.2,1285.7 L946.8,1265.8 L949.5,1239.4 L952.1,1212.9 L955.4,1193.1 L958.1,1179.8 L960.1,1173.2 L963.4,1186.5 L966.0,1199.7 L967.3,1207.6 L973.3,1205.0 L975.3,1186.5 L976.3,1159.0 L977.9,1125.3 L980.6,1092.3 L983.2,1065.8 L985.2,1049.9 L989.2,1042.0 L992.5,1036.7 L997.1,1040.7 L1005.0,1049.9 L1008.3,1060.5 L1011.6,1073.8 L1013.6,1092.3 L1015.6,1112.1 L1016.9,1132.0 L1018.9,1159.0 L1021.6,1193.1 L1024.2,1226.1 L1026.2,1259.2 L1028.8,1292.3 L1030.8,1318.7 L1036.8,1313.4 L1038.8,1298.9 L1041.4,1272.4 L1044.0,1246.0 L1046.0,1219.5 L1048.7,1194.4 L1051.3,1190.4 L1056.6,1181.2 L1059.3,1199.7 L1062.6,1226.1 L1065.9,1252.6 L1069.8,1279.0 L1073.1,1292.3 L1075.8,1301.5 L1079.1,1285.7 L1081.7,1265.8 L1084.4,1239.4 L1087.7,1212.9 L1091.0,1197.0 L1096.3,1181.2 L1101.6,1190.4 L1104.2,1206.3 L1106.9,1232.8 L1109.5,1259.2 L1112.2,1285.7 L1114.8,1324.0 L1117.5,1316.1 L1120.0,1310.0 L1124.0,1278.7 L1127.3,1245.7 L1129.9,1219.2 L1133.2,1195.4 L1137.2,1184.8 L1141.2,1179.5 L1146.5,1182.2 L1153.1,1188.8 L1155.7,1199.4 L1159.0,1219.2 L1163.7,1231.1 L1167.0,1237.7 L1168.9,1212.6 L1171.6,1192.8 L1174.2,1172.9 L1177.5,1153.1 L1180.2,1143.8 L1184.8,1151.7 L1189.4,1165.0 L1193.4,1175.6 L1196.7,1192.8 L1200.7,1212.6 L1204.0,1225.8 L1206.6,1236.4 L1212.6,1228.5 L1219.2,1220.5 L1223.2,1229.8 L1227.1,1241.7 L1231.1,1257.6 L1238.4,1252.3 L1244.3,1261.5 L1247.0,1272.1 L1251.0,1285.3 L1256.9,1297.9 L1262.9,1288.0 L1266.8,1278.7 L1272.1,1262.9 L1276.1,1252.3 L1278.7,1249.0 L1284.0,1249.0 L1286.7,1265.5 L1289.3,1285.3 L1292.0,1305.2 L1295.3,1332.7 L1298.6,1347.1 L1302.5,1354.9 L1304.5,1332.7 L1307.1,1313.1 L1309.2,1298.6 L1311.1,1278.7 L1313.8,1252.3 L1317.1,1235.1 L1321.1,1220.5 L1325.0,1211.3 L1329.0,1208.6 L1334.3,1211.3 L1337.0,1208.0 L1339.6,1192.8 L1342.9,1176.9 L1347.5,1162.3 L1351.5,1186.1 L1355.4,1215.2 L1358.1,1232.4 L1361.4,1253.6 L1364.0,1232.4 L1367.4,1199.4 L1370.7,1166.3 L1374.0,1139.8 L1375.8,1124.0 L1378.9,1095.3 L1382.2,1062.3 L1384.2,1035.8 L1386.2,1009.4 L1387.5,982.9 L1388.9,956.5 L1389.8,934.0 L1390.0,919.0 L1391.0,899.1 L1392.0,874.3 L1393.5,849.5 L1396.5,829.7 L1400.1,811.3 L1402.4,829.7 L1403.9,849.5 L1405.4,874.3 L1407.4,899.1 L1408.9,919.0 L1410.2,934.0 L1412.7,956.5 L1416.0,982.9 L1418.6,1009.4 L1420.6,1035.8 L1422.6,1062.3 L1425.2,1088.7 L1427.9,1115.2 L1431.8,1142.3 L1434.5,1102.0 L1437.1,1075.5 L1439.8,1055.7 L1442.4,1035.8 L1445.1,1022.6 L1447.7,1035.8 L1451.0,1055.7 L1453.7,1075.5 L1455.4,1101.0 L1457.6,1126.5 L1460.3,1152.9 L1462.9,1179.4 L1465.6,1192.6 L1470.8,1195.2 L1473.5,1179.4 L1476.1,1172.8 L1483.4,1166.1 L1496.0,1175.4 L1502.6,1184.7 L1509.2,1189.9 L1513.2,1179.4 L1517.1,1159.5 L1520.4,1139.7 L1523.8,1122.5 L1529.0,1110.6 L1533.0,1122.5 L1537.0,1139.7 L1542.3,1159.5 L1547.6,1179.4 L1552.2,1205.8 L1556.8,1232.3 L1561.5,1249.5 L1567.4,1238.9 L1571.4,1225.7 L1575.3,1213.8 L1580.6,1203.2 L1585.9,1198.5 L1591.2,1203.2 L1596.5,1213.8 L1600.5,1223.0 L1605.8,1219.0 L1609.7,1208.5 L1613.7,1201.9 L1618.3,1207.1 L1623.0,1219.0 L1626.3,1228.3 L1629.6,1205.8 L1633.5,1186.0 L1637.5,1171.4 L1639.5,1168.8 L1644.1,1175.4 L1648.1,1192.6 L1652.1,1209.8 L1657.4,1221.7 L1664.6,1228.3 L1669.3,1216.4 L1671.9,1213.8 L1678.5,1221.7 L1683.8,1231.0 L1689.1,1217.0 L1693.5,1193.0 L1697.0,1172.0 L1700.0,1157.0 L1703.1,1148.7 L1707.4,1166.0 L1711.0,1188.0 L1714.5,1208.0 L1717.5,1218.5 L1723.1,1226.5 L1729.7,1215.9 L1736.3,1206.7 L1742.9,1198.7 L1748.2,1185.5 L1752.2,1172.3 L1756.1,1159.0 L1762.1,1152.4 L1766.1,1165.7 L1770.7,1178.9 L1774.7,1181.5 L1781.3,1177.6 L1787.9,1169.6 L1794.5,1167.0 L1799.8,1157.7 L1806.4,1144.5 L1811.7,1152.4 L1817.0,1159.0 L1822.3,1165.7 L1826.2,1169.0 L1830.2,1159.0 L1834.2,1143.2 L1838.1,1127.3 L1844.8,1122.7 L1851.4,1131.3 L1859.3,1132.6 L1865.9,1128.6 L1869.9,1114.1 L1873.2,1095.0 L1875.5,1078.0 L1878.5,1058.5 L1880.7,1050.7 L1884.0,1044.6 L1887.5,1053.0 L1891.0,1062.0 L1894.7,1071.5 L1898.3,1078.5 L1903.9,1079.4 L1909.4,1076.7 L1914.1,1080.4 L1916.9,1083.1 L1922.4,1080.4 L1925.2,1071.1 L1928.9,1061.9 L1932.6,1048.0 L1936.3,1034.1 L1940.0,1020.2 L1942.8,1008.1 L1945.6,992.4 L1948.3,978.5 L1951.1,971.1 L1954.8,965.6 L1957.6,972.0 L1960.4,980.4 L1965.0,985.0 L1969.6,989.6 L1973.3,997.0 L1977.0,1006.3 L1979.8,1015.6 L1982.6,1023.0 L1988.1,1025.7 L1990.9,1015.6 L1993.7,1001.7 L1996.5,987.8 L1998.8,973.9 L2001.3,957.6" stroke="#BA3827"/>
<path d="M339.8,1063.0 L346.3,1062.7 L352.2,1072.6 L357.7,1084.5 L366.1,1085.5" stroke="#BA3827" stroke-dasharray="7.6 5.0"/>
<path d="M366.1,1085.5 L372.1,1070.6 L377.5,1055.7 L385.0,1046.0 L390.9,1057.7 L397.4,1046.8 L397.9,1036.4 L398.9,1024.5 L399.4,1011.9 L399.9,999.0 L400.9,987.1 L400.9,974.2 L401.8,961.3 L401.8,949.4 L402.8,936.5 L402.8,923.6 L404.3,868.8 L404.8,849.0 L405.1,834.1 L405.8,819.2 L406.1,794.4 L406.8,769.6 L407.1,744.8 L407.8,719.0 L408.5,662.2 L408.9,621.5 L410.0,569.6 L411.5,504.8 L412.6,437.0 L413.7,345.2 L415.2,271.0 L417.0,179.4 L420.7,280.4 L422.6,332.2 L423.7,382.0 L424.8,438.0 L425.9,514.1 L426.9,588.1 L427.8,636.3 L429.1,732.9 L429.6,746.8 L430.1,759.7 L430.1,778.5 L431.1,790.9 L431.1,803.3 L431.1,816.2 L431.9,828.1 L431.9,841.0 L432.1,852.9 L432.6,865.8 L433.1,877.4 L433.1,890.8 L433.1,902.7 L434.1,915.6 L434.1,927.5 L434.6,940.4 L435.1,953.3 L435.1,966.2 L435.6,978.1 L436.1,991.0 L436.6,1002.9 L437.1,1020.0 L438.1,1033.9 L439.0,1046.3 L440.0,1058.7 L441.0,1071.6 L441.5,1084.0 L442.5,1096.4 L444.0,1105.3 L451.4,1102.3 L456.4,1090.4 L462.9,1094.4 L465.0,1106.3 L468.8,1119.2 L471.8,1134.1 L474.3,1147.0 L476.5,1153.0 L480.7,1158.9 L488.7,1154.9 L493.1,1145.0 L501.5,1136.1" stroke="#BA3827" stroke-dasharray="5 7.6"/>
<path d="M501.5,1136.1 L508.0,1140.0 L517.4,1143.5 L521.9,1145.5 L527.3,1151.0" stroke="#BA3827" stroke-dasharray="7.6 5.0"/>
<path d="M527.3,1151.0 L532.8,1162.9 L537.8,1177.0 L541.2,1182.9 L547.2,1190.3" stroke="#BA3827" stroke-dasharray="5 7.6"/>
<path d="M547.2,1190.3 L556.1,1186.9 L561.0,1187.4 L565.5,1190.8" stroke="#BA3827" stroke-dasharray="7.6 5.0"/>
<path d="M565.5,1190.8 L571.4,1179.9 L578.8,1170.5 L585.3,1179.9" stroke="#BA3827" stroke-dasharray="5.8 6.8"/>
<path d="M585.3,1179.9 L590.3,1195.8" stroke="#BA3827" stroke-dasharray="5 7.6"/>
<path d="M590.3,1195.8 L599.2,1208.7 L604.1,1216.1 L612.1,1225.1 L618.0,1228.5 L629.4,1217.6 L636.0,1214.0 L643.8,1222.6 L650.8,1227.5 L656.7,1222.1 L663.7,1218.1 L669.6,1224.1 L676.1,1234.0 L683.0,1242.9 L689.0,1249.4 L695.9,1252.8 L701.9,1258.8 L708.8,1264.2 L715.3,1259.8" stroke="#BA3827" stroke-dasharray="5.8 6.8"/>
<path d="M715.3,1259.8 L720.2,1247.9 L721.9,1240.4 L724.2,1228.5 L727.2,1215.6 L728.7,1209.7 L733.1,1197.8 L737.6,1210.2 L740.1,1222.6 L742.5,1235.5 L745.0,1247.9 L747.5,1260.3 L751.5,1273.2 L753.9,1279.1" stroke="#BA3827" stroke-dasharray="5 7.6"/>
<path d="M753.9,1279.1 L760.9,1281.1 L770.3,1280.1" stroke="#BA3827" stroke-dasharray="7.6 5.0"/>
<path d="M770.3,1280.1 L779.2,1285.1 L785.7,1293.5 L793.1,1297.5 L798.1,1296.0 L800.0,1296.2 L805.3,1298.9 L811.9,1308.1 L818.5,1315.4 L825.1,1320.7 L830.4,1321.4 L835.7,1310.8 L843.7,1298.2 L850.9,1297.6 L856.9,1306.2 L863.5,1312.1 L870.1,1318.1 L876.7,1328.0 L882.7,1332.6" stroke="#BA3827" stroke-dasharray="5.8 6.8"/>
<path d="M882.7,1332.6 L891.9,1328.7 L897.9,1330.6 L901.9,1334.6" stroke="#BA3827" stroke-dasharray="7.6 5.0"/>
<path d="M901.9,1334.6 L903.2,1324.0 L904.5,1312.1 L906.5,1300.0 L907.8,1292.3 L908.5,1281.7 L910.0,1270.0 L911.1,1257.9 L911.8,1244.7 L912.4,1232.8 L916.0,1200.0 L920.4,1174.6 L921.0,1188.4 L922.4,1199.7 L923.7,1211.6 L925.0,1224.8 L925.7,1238.0 L927.0,1251.3 L928.5,1275.0 L930.3,1296.2 L932.3,1308.1 L932.9,1320.7 L934.3,1333.3 L938.9,1345.2 L941.5,1349.2" stroke="#BA3827" stroke-dasharray="5 7.6"/>
<path d="M941.5,1349.2 L946.8,1357.1 L954.4,1361.5 L960.9,1364.1 L966.8,1370.0 L974.0,1377.8 L985.1,1372.0 L992.3,1360.2 L999.5,1356.3 L1006.0,1362.1 L1012.6,1367.4 L1018.5,1369.3 L1025.0,1362.0 L1030.9,1354.9 L1038.7,1351.7 L1045.3,1358.9 L1051.2,1366.1" stroke="#BA3827" stroke-dasharray="5.8 6.8"/>
<path d="M1051.2,1366.1 L1057.7,1369.3 L1064.3,1366.7 L1070.8,1364.8 L1076.0,1372.0" stroke="#BA3827" stroke-dasharray="7.6 5.0"/>
<path d="M1076.0,1372.0 L1081.9,1385.0" stroke="#BA3827" stroke-dasharray="5 7.6"/>
<path d="M1081.9,1385.0 L1084.5,1390.3 L1093.0,1396.8 L1103.5,1392.9 L1115.3,1381.1 L1120.0,1381.1 L1127.8,1387.0 L1135.0,1389.6 L1143.5,1379.8" stroke="#BA3827" stroke-dasharray="5.8 6.8"/>
<path d="M1143.5,1379.8 L1146.2,1368.0 L1148.1,1359.5 L1149.4,1346.4 L1150.1,1334.7 L1151.4,1322.2 L1152.9,1310.0 L1153.7,1297.2 L1155.1,1285.3 L1155.7,1273.4 L1157.0,1260.2 L1157.7,1248.3 L1159.0,1235.1 L1165.0,1226.0 L1170.9,1245.7 L1172.9,1258.9 L1174.2,1274.8 L1175.6,1288.0 L1176.9,1301.2 L1177.6,1313.1 L1178.9,1324.9 L1179.9,1335.3 L1181.5,1347.7 L1182.8,1360.2 L1184.4,1372.6 L1186.7,1386.3 L1193.3,1397.5" stroke="#BA3827" stroke-dasharray="5 7.6"/>
<path d="M1193.3,1397.5 L1199.8,1392.9 L1207.0,1394.8 L1212.9,1401.4 L1219.4,1404.7 L1231.2,1402.7 L1243.0,1404.0 L1252.1,1405.3 L1258.0,1411.2 L1263.9,1412.5 L1270.4,1411.2 L1278.3,1410.5 L1287.5,1412.5 L1296.6,1409.9 L1305.8,1411.8 L1314.9,1413.8 L1324.1,1415.1 L1329.5,1415.3 L1335.9,1412.5" stroke="#BA3827" stroke-dasharray="7.6 5.0"/>
<path d="M1335.9,1412.5 L1342.4,1406.6 L1348.9,1400.1 L1354.2,1398.1 L1362.0,1396.8 L1368.6,1392.9 L1373.8,1385.0" stroke="#BA3827" stroke-dasharray="5.8 6.8"/>
<path d="M1373.8,1385.0 L1375.8,1372.0 L1376.7,1360.2 L1377.7,1347.1 L1379.7,1334.7 L1380.3,1323.5 L1381.1,1312.5 L1381.9,1301.2 L1382.6,1288.0 L1383.2,1274.8 L1383.6,1262.9 L1383.9,1249.6 L1384.3,1236.4 L1384.6,1224.5 L1385.2,1211.3 L1385.6,1198.0 L1385.9,1186.1 L1386.1,1172.9 L1387.2,1155.7 L1387.2,1142.5 L1387.9,1130.6 L1388.2,1120.5 L1388.9,1092.7 L1389.5,1068.2 L1389.9,1043.8 L1390.2,1018.0 L1390.2,993.5 L1393.0,945.0 L1396.1,992.2 L1398.1,1004.7 L1398.8,1017.3 L1399.4,1030.5 L1400.1,1043.1 L1400.8,1055.7 L1401.4,1068.2 L1401.8,1080.8 L1402.1,1093.4 L1402.5,1106.6 L1402.8,1120.5 L1403.1,1130.6 L1403.7,1155.7 L1404.4,1180.8 L1405.0,1206.0 L1405.7,1229.8 L1407.0,1253.6 L1408.4,1266.8 L1409.7,1278.7 L1410.3,1292.0 L1411.0,1305.2 L1412.3,1317.1 L1416.2,1329.4 L1419.5,1338.6 L1425.7,1349.8 L1436.5,1352.0" stroke="#BA3827" stroke-dasharray="5 7.6"/>
<path d="M1436.5,1352.0 L1445.1,1357.8 L1452.3,1365.1 L1460.3,1369.7 L1470.2,1361.1 L1476.1,1350.5" stroke="#BA3827" stroke-dasharray="5.8 6.8"/>
<path d="M1476.1,1350.5 L1483.4,1347.9 L1490.7,1353.2 L1501.3,1356.5 L1514.5,1353.8 L1522.4,1351.9 L1531.7,1349.9 L1536.5,1347.0 L1541.6,1342.6 L1547.6,1332.0" stroke="#BA3827" stroke-dasharray="7.6 5.0"/>
<path d="M1547.6,1332.0 L1554.2,1324.1 L1561.5,1316.1 L1568.7,1314.8 L1575.3,1319.4 L1582.0,1323.4 L1587.2,1325.4 L1593.9,1320.1" stroke="#BA3827" stroke-dasharray="5.8 6.8"/>
<path d="M1593.9,1320.1 L1599.2,1309.5 L1605.8,1297.0 L1612.4,1289.7" stroke="#BA3827" stroke-dasharray="5 7.6"/>
<path d="M1612.4,1289.7 L1620.3,1288.4 L1630.9,1288.4" stroke="#BA3827" stroke-dasharray="7.6 5.0"/>
<path d="M1630.9,1288.4 L1640.2,1283.7 L1646.8,1279.1 L1653.4,1273.8 L1660.0,1269.2" stroke="#BA3827" stroke-dasharray="5.8 6.8"/>
<path d="M1660.0,1269.2 L1667.9,1267.9 L1675.9,1266.5" stroke="#BA3827" stroke-dasharray="7.6 5.0"/>
<path d="M1675.9,1266.5 L1683.8,1254.6" stroke="#BA3827" stroke-dasharray="5.8 6.8"/>
<path d="M1683.8,1254.6 L1688.0,1230.0 L1692.0,1190.0 L1694.3,1148.0 L1700.6,1053.4 L1703.0,1025.0" stroke="#BA3827" stroke-dasharray="4.8 30"/>
<path d="M1703.0,1025.0 L1704.6,1028.3" stroke="#BA3827" stroke-dasharray="5.8 6.8"/>
<path d="M1704.6,1028.3 L1711.4,1103.0 L1713.4,1140.0 L1716.0,1190.0 L1720.0,1215.0" stroke="#BA3827" stroke-dasharray="4.8 30"/>
<path d="M1720.0,1215.0 L1729.0,1227.8" stroke="#BA3827" stroke-dasharray="5.8 6.8"/>
<path d="M1729.0,1227.8 L1740.9,1224.5 L1749.0,1222.0 L1754.8,1214.6" stroke="#BA3827" stroke-dasharray="7.6 5.0"/>
<path d="M1754.8,1214.6 L1758.1,1208.0 L1762.1,1193.4 L1766.7,1182.2" stroke="#BA3827" stroke-dasharray="5 7.6"/>
<path d="M1766.7,1182.2 L1774.7,1176.2 L1786.6,1160.4 L1793.2,1153.1 L1799.8,1149.8 L1806.4,1146.0 L1817.0,1160.0 L1826.0,1167.0 L1832.0,1158.0 L1838.1,1149.8 L1844.8,1141.9 L1850.7,1133.9 L1857.3,1125.3" stroke="#BA3827" stroke-dasharray="5.8 6.8"/>
<path d="M1857.3,1125.3 L1860.6,1119.4 L1864.6,1106.8" stroke="#BA3827" stroke-dasharray="5 7.6"/>
<path d="M1864.6,1106.8 L1867.2,1085.6 L1873.3,1037.3 L1876.6,1012.3 L1880.5,997.0 L1885.0,1046.0" stroke="#BA3827" stroke-dasharray="4.8 30"/>
<path d="M1885.0,1046.0 L1891.0,1064.0" stroke="#BA3827" stroke-dasharray="5 7.6"/>
<path d="M1891.0,1064.0 L1897.8,1092.3" stroke="#BA3827" stroke-dasharray="4.8 30"/>
<path d="M1897.8,1092.3 L1904.9,1096.0 L1915.0,1085.3 L1922.6,1073.8 L1930.0,1064.0 L1937.5,1057.2 L1942.4,1045.5" stroke="#BA3827" stroke-dasharray="5.8 6.8"/>
<path d="M1942.4,1045.5 L1946.5,1025.7 L1950.6,1008.6" stroke="#BA3827" stroke-dasharray="4.8 30"/>
<path d="M1950.6,1008.6 L1955.2,996.6 L1962.8,1001.5" stroke="#BA3827" stroke-dasharray="5 7.6"/>
<path d="M1962.8,1001.5 L1968.5,1005.3 L1975.0,1012.0 L1981.5,1022.0 L1988.0,1026.0" stroke="#BA3827" stroke-dasharray="5.8 6.8"/>
<path d="M1988.0,1026.0 L1994.0,980.0" stroke="#BA3827" stroke-dasharray="4.8 30"/>
<path d="M1994.0,980.0 L2001.0,955.0" stroke="#BA3827" stroke-dasharray="5 7.6"/>
</g>
<g fill="none" stroke-width="4.2">
<line x1="2086.9" y1="320.0" x2="2170" y2="320.0" stroke="#E8B651"/>
<line x1="2086.9" y1="640.0" x2="2170" y2="640.0" stroke="#E8B651" stroke-dasharray="5 5"/>
<line x1="2086.9" y1="960.0" x2="2170" y2="960.0" stroke="#BA3827"/>
<line x1="2086.9" y1="1280.0" x2="2170" y2="1280.0" stroke="#BA3827" stroke-dasharray="5 5"/>
</g>
<text x="2186.8" y="338.0" font-size="64.8">Data (H1)</text>
<text x="2186.8" y="658.0" font-size="64.8">Noise (H1)</text>
<text x="2186.8" y="978.0" font-size="64.8">Data (L1)</text>
<text x="2186.8" y="1298.0" font-size="64.8">Noise (L1)</text>
<text x="902.8" y="72.8" font-size="73">Amplitude variance</text>
<text transform="translate(107.4,599.2) rotate(-90)" font-size="51.8">Amplitude variance</text>
<text x="2046.3" y="1542.8" font-size="51.9" text-anchor="end">Frequency [Hz]</text>
<text x="158.5" y="676.8" font-size="51.5">10</text>
<text x="213.7" y="656.6" font-size="34.5">−</text>
<text x="234.5" y="653.8" font-size="34.5" textLength="36.4" lengthAdjust="spacingAndGlyphs">46</text>
<text x="158.5" y="1186.3" font-size="51.5">10</text>
<text x="213.7" y="1166.1" font-size="34.5">−</text>
<text x="234.5" y="1163.3" font-size="34.5" textLength="36.4" lengthAdjust="spacingAndGlyphs">47</text>
<text x="614.0" y="1512.3" font-size="51.5">10</text>
<text x="671.0" y="1489.3" font-size="34.5" textLength="18.2" lengthAdjust="spacingAndGlyphs">2</text>
<text x="1661.0" y="1512.3" font-size="51.5">10</text>
<text x="1718.0" y="1489.3" font-size="34.5" textLength="18.2" lengthAdjust="spacingAndGlyphs">3</text>
</svg></body></html>
